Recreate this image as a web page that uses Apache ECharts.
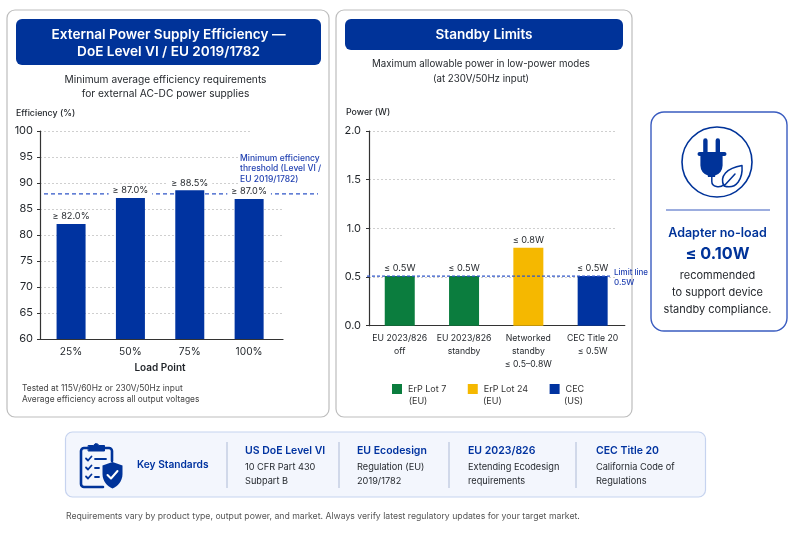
<!DOCTYPE html>
<html><head><meta charset="utf-8">
<style>html,body{margin:0;padding:0;background:#fff}#c{width:800px;height:533px}</style>
<script src="https://cdn.jsdelivr.net/npm/echarts@6/dist/echarts.min.js"></script>
</head><body><div id="c"></div>
<script>
const loadPoints = ['25%','50%','75%','100%'];
const efficiencyValues = [82.1, 87.1, 88.6, 86.9];
const efficiencyLabels = ['≥ 82.0%','≥ 87.0%','≥ 88.5%','≥ 87.0%'];
const efficiencyThreshold = 87.9;
const standbyCategories = ['EU 2023/826\noff','EU 2023/826\nstandby','Networked\nstandby\n≤ 0.5–0.8W','CEC Title 20\n≤ 0.5W'];
const erpLot7 = [0.51, 0.51, null, null];
const erpLot24 = [null, null, 0.8, null];
const cec = [null, null, null, 0.51];
const standbyLabels = ['≤ 0.5W','≤ 0.5W','≤ 0.8W','≤ 0.5W'];
const standbyLimit = 0.51;
const standards = [
  ['US DoE Level VI','10 CFR Part 430','Subpart B'],
  ['EU Ecodesign','Regulation (EU)','2019/1782'],
  ['EU 2023/826','Extending Ecodesign','requirements'],
  ['CEC Title 20','California Code of','Regulations']
];

const NAVY='#003399', BLUE='#0033a0', GREEN='#0b7d3e', YEL='#f5b800', INK='#1f2328', F='Inter';
const chart = echarts.init(document.getElementById('c'));
const txt=(x,y,t,size,o={})=>({type:'text',x,y,z:20,silent:true,style:Object.assign({text:t,fontFamily:F,fontSize:size,fontWeight:o.w||400,fill:o.c||INK,align:o.a||'left',verticalAlign:'middle',lineHeight:o.lh},o.s||{})});
const rr=(x,y,w,h,r,fill,stroke,lw,z)=>({type:'rect',silent:true,z:z===undefined?-5:z,shape:{x,y,width:w,height:h,r},style:{fill,stroke,lineWidth:lw||0}});
let pathId=0;
const path=(d,o={})=>{const name='iconPath'+(pathId++);echarts.graphic.registerShape(name,echarts.graphic.extendPath(d,{}));
  return {type:name,silent:true,z:21,style:{fill:o.fill||'none',stroke:o.stroke||null,lineWidth:o.lw||0,lineCap:'round',lineJoin:'round'}};};

const g=[
  rr(7,10,322,407,8,'#fff','#bdbdbd',1.2),
  rr(336,10,296,407,8,'#fff','#bdbdbd',1.2),
  rr(16,19,305,46,6,NAVY),
  rr(345,19,278,31,6,NAVY),
  txt(168.5,35,'External Power Supply Efficiency —',13.6,{w:600,c:'#fff',a:'center'}),
  txt(168.5,52,'DoE Level VI / EU 2019/1782',13.6,{w:600,c:'#fff',a:'center'}),
  txt(484,35,'Standby Limits',13.6,{w:600,c:'#fff',a:'center'}),
  txt(165.5,80,'Minimum average efficiency requirements',10.2,{a:'center'}),
  txt(165.5,94,'for external AC-DC power supplies',10.2,{a:'center'}),
  txt(481,64.5,'Maximum allowable power in low-power modes',9.7,{a:'center'}),
  txt(481,79,'(at 230V/50Hz input)',9.7,{a:'center'}),
  txt(16,113,'Efficiency (%)',8.8,{w:500}),
  txt(346,112.5,'Power (W)',8.8,{w:500}),
  txt(160,368,'Load Point',10,{w:600,a:'center'}),
  txt(22,388,'Tested at 115V/60Hz or 230V/50Hz input',8.4,{c:'#444'}),
  txt(22,399.5,'Average efficiency across all output voltages',8.4,{c:'#444'}),
  rr(238,152,84,34,0,'#fff',null,0,1),
  rr(250,129,34,4,0,'#fff',null,0,1),
  txt(240,158,'Minimum efficiency',8.5,{w:500,c:'#1f3fb0'}),
  txt(240,168.5,'threshold (Level VI /',8.5,{w:500,c:'#1f3fb0'}),
  txt(240,179,'EU 2019/1782)',8.5,{w:500,c:'#1f3fb0'}),
  txt(614,273,'Limit line',8,{w:500,c:'#1f3fb0'}),
  txt(614,283,'0.5W',8,{w:500,c:'#1f3fb0'}),
  txt(408.7,401,'(EU)',9,{c:'#333'}),
  txt(483,401,'(EU)',9,{c:'#333'}),
  txt(564,401,'(US)',9,{c:'#333'}),
  // adapter card
  rr(651,112,136,219,13,'#fff','#3a5cc0',1.4),
  {type:'circle',silent:true,z:20,shape:{cx:717,cy:162,r:35},style:{fill:'none',stroke:NAVY,lineWidth:1.6}},
  path('M703.2 140.5a2.2 2.2 0 0 1 4.4 0V152h-4.4Z M715.6 140.5a2.2 2.2 0 0 1 4.4 0V152h-4.4Z M699.5 152H724.500a2 2 0 0 1 0 4h-1.900V165.500a11 11 0 0 1-7.500 10V177h-7.200v-1.500a11 11 0 0 1-7.500-10V156H699.500a2 2 0 0 1 0-4Z',{fill:NAVY}),
  path('M711.800 177V181.500C711.800 187 720 188.500 724 184.500',{stroke:NAVY,lw:1.5}),
  path('M724 186C719 176 727 168 742 165.500C743 178 737 190 724 186Z M724 186L735 174',{stroke:NAVY,lw:1.5}),
  {type:'line',silent:true,z:20,shape:{x1:666,y1:210,x2:770,y2:210},style:{stroke:'#3a5cc0',lineWidth:1.2}},
  txt(717.500,233,'Adapter no-load',12.500,{w:600,c:NAVY,a:'center'}),
  txt(717.500,254.500,'≤ 0.10W',16.200,{w:700,c:NAVY,a:'center'}),
  txt(717.500,276,'recommended',11,{a:'center'}),
  txt(717.500,293,'to support device',11,{a:'center'}),
  txt(717.500,310,'standby compliance.',11,{a:'center'}),
  // standards
  rr(65.500,432,640,65,7,'#f3f6fd','#c6d3ef',1.2),
  txt(137,465,'Key Standards',10.200,{w:600,c:BLUE}),
  txt(66,516,'Requirements vary by product type, output power, and market. Always verify latest regulatory updates for your target market.',8.700,{c:'#555'}),
  // clipboard icon
  path('M84 448H109A3 3 0 0 1 112 451V461 M103 487H84A3 3 0 0 1 81 484V451A3 3 0 0 1 84 448',{stroke:NAVY,lw:2.600}),
  path('M88.500 445.500H93.500A3 3 0 0 1 99 445.500H104.500V451H88.500Z',{fill:NAVY,stroke:NAVY,lw:1}),
  path('M86 458.500L88 460.500L91.500 456.500 M86 467.500L88 469.500L91.500 465.500 M86 476.500L88 478.500L91.500 474.500',{stroke:NAVY,lw:1.800}),
  path('M95 459H106 M95 468H99 M95 477H99',{stroke:NAVY,lw:1.800}),
  path('M112.500 462L122.500 465.500V474C122.500 481 118 486 112.500 488.500C107 486 102.500 481 102.500 474V465.500Z',{fill:NAVY}),
  path('M107.500 475L111 478.500L117.500 471',{stroke:'#fff',lw:2})
];
[227,339,449,576].forEach(x=>g.push({type:'line',silent:true,z:20,shape:{x1:x,y1:442,x2:x,y2:488},style:{stroke:'#aebbd6',lineWidth:1}}));
[245,357,468,596].forEach((x,i)=>{
  g.push(txt(x,451,standards[i][0],10.500,{w:600,c:BLUE}));
  g.push(txt(x,467,standards[i][1],9.200));
  g.push(txt(x,481,standards[i][2],9.200));
});

const hiddenY=(min,max,gi)=>({type:'value',gridIndex:gi,min,max,show:false});
const axisCommon={axisLine:{show:true,onZero:false,lineStyle:{color:'#333',width:1.2}},axisTick:{show:true,length:3,lineStyle:{color:'#333'}},
  axisLabel:{fontFamily:F,fontSize:11,color:INK,margin:7},
  splitLine:{show:true,lineStyle:{color:'#cfcfcf',type:[2,2],width:1}}};
const lab=(labels)=>({show:true,position:'top',distance:2,fontFamily:F,fontSize:9.200,color:INK,backgroundColor:'#fff',padding:[1,4],formatter:p=>labels[p.dataIndex]});
const xBlank=(gi,extra)=>Object.assign({type:'value',gridIndex:gi,min:0,max:1,show:false},extra||{});
const darkLine={show:true,lineStyle:{color:'#333',width:1.2}};

chart.setOption({
  animation:false,
  backgroundColor:'#fff',
  graphic:{elements:g},
  legend:{show:true,left:392,top:384,padding:0,itemWidth:10,itemHeight:10,itemGap:21.500,icon:'rect',selectedMode:false,
    textStyle:{fontFamily:F,fontSize:9,color:'#333',padding:[0,0,0,1]},
    data:['ErP Lot 7','ErP Lot 24','CEC']},
  grid:[
    {left:40,top:131,width:243,height:208},
    {left:41.400,top:131,width:237.400,height:208},
    {left:44,top:131,width:274,height:208},
    {left:369,top:131,width:247,height:194.700},
    {left:367.600,top:131,width:257.200,height:194.700},
    {left:367,top:131,width:245,height:194.700}
  ],
  xAxis:[
    xBlank(0,{show:true,axisLine:darkLine,axisTick:{show:false},axisLabel:{show:false},splitLine:{show:false}}),
    {type:'category',gridIndex:1,data:loadPoints,axisLine:{show:false},axisTick:{show:false},axisLabel:{fontFamily:F,fontSize:10.200,color:INK,margin:8}},
    xBlank(2),
    xBlank(3),
    {type:'category',gridIndex:4,data:standbyCategories,axisLine:darkLine,axisTick:{show:false},axisLabel:{fontFamily:F,fontSize:8.700,color:INK,margin:6,lineHeight:13,interval:0}},
    xBlank(5)
  ],
  yAxis:[
    Object.assign({type:'value',gridIndex:0,min:60,max:100,interval:5},axisCommon),
    hiddenY(60,100,1),hiddenY(60,100,2),
    Object.assign({type:'value',gridIndex:3,min:0,max:2,interval:0.5},axisCommon,{axisLabel:Object.assign({},axisCommon.axisLabel,{margin:8,formatter:v=>v.toFixed(1)})}),
    hiddenY(0,2,4),hiddenY(0,2,5)
  ],
  series:[
    {type:'line',name:'Threshold',xAxisIndex:2,yAxisIndex:2,symbol:'none',z:3,lineStyle:{color:'#2f55c8',type:[4,3],width:1.2},data:[[0,efficiencyThreshold],[1,efficiencyThreshold]]},
    {type:'bar',name:'Efficiency',xAxisIndex:1,yAxisIndex:1,barWidth:29,z:4,itemStyle:{color:BLUE},label:lab(efficiencyLabels),data:efficiencyValues},
    {type:'bar',name:'ErP Lot 7',xAxisIndex:4,yAxisIndex:4,stack:'s',barWidth:30,z:2,itemStyle:{color:GREEN},label:lab(standbyLabels),data:erpLot7},
    {type:'bar',name:'ErP Lot 24',xAxisIndex:4,yAxisIndex:4,stack:'s',barWidth:30,z:2,itemStyle:{color:YEL},label:lab(standbyLabels),data:erpLot24},
    {type:'bar',name:'CEC',xAxisIndex:4,yAxisIndex:4,stack:'s',barWidth:30,z:2,itemStyle:{color:BLUE},label:lab(standbyLabels),data:cec},
    {type:'line',name:'Limit',xAxisIndex:5,yAxisIndex:5,symbol:'none',z:5,lineStyle:{color:'#2f55c8',type:[3,2],width:1.3},data:[[0,standbyLimit],[1,standbyLimit]]}
  ]
});
</script></body></html>
